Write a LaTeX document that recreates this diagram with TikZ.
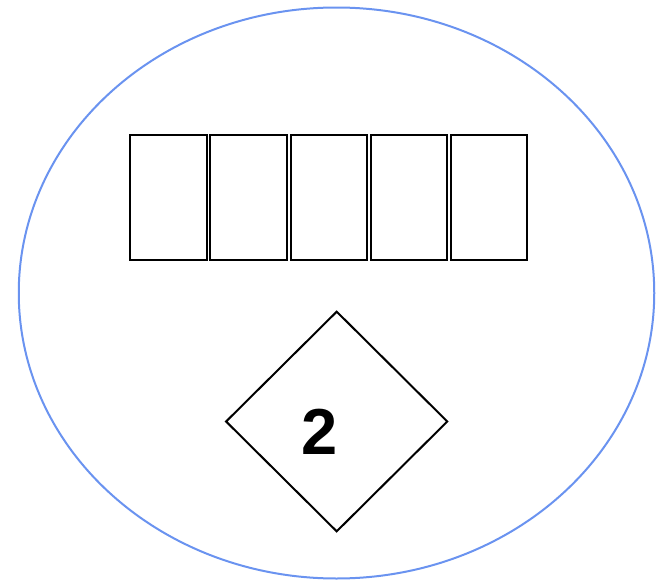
\documentclass[tikz,border=0pt]{standalone}
\usepackage{fontspec}
\setmainfont{Liberation Sans}
\usetikzlibrary{shapes.geometric}
\definecolor{diagramRing}{HTML}{6A93F0}
\definecolor{diagramLine}{HTML}{000000}

\begin{document}
\begin{tikzpicture}[
    x=1pt,y=-1pt,
    ring/.style={ellipse,draw=diagramRing,line width=2pt,inner sep=0pt,minimum width=635.5pt,minimum height=571pt},
    slot/.style={draw=diagramLine,line width=2pt,inner sep=0pt,minimum width=76.5pt,minimum height=125pt},
    badge/.style={diamond,draw=diagramLine,line width=2pt,inner sep=0pt,minimum width=222pt,minimum height=220.5pt},
    digit/.style={font=\bfseries\fontsize{65}{65}\selectfont,inner sep=0pt}
]
\useasboundingbox (0,0) rectangle (662,581);
\node[ring] (outer) at (336.5,293) {};
\node[slot] (slotA) at (168.4,197.9) {};
\node[slot] (slotB) at (248.6,197.9) {};
\node[slot] (slotC) at (328.8,197.9) {};
\node[slot] (slotD) at (409.0,197.9) {};
\node[slot] (slotE) at (489.2,197.9) {};
\node[badge] (marker) at (336.7,421.5) {};
\node[digit] (count) at (319.5,432.2) {2};
\end{tikzpicture}
\end{document}
